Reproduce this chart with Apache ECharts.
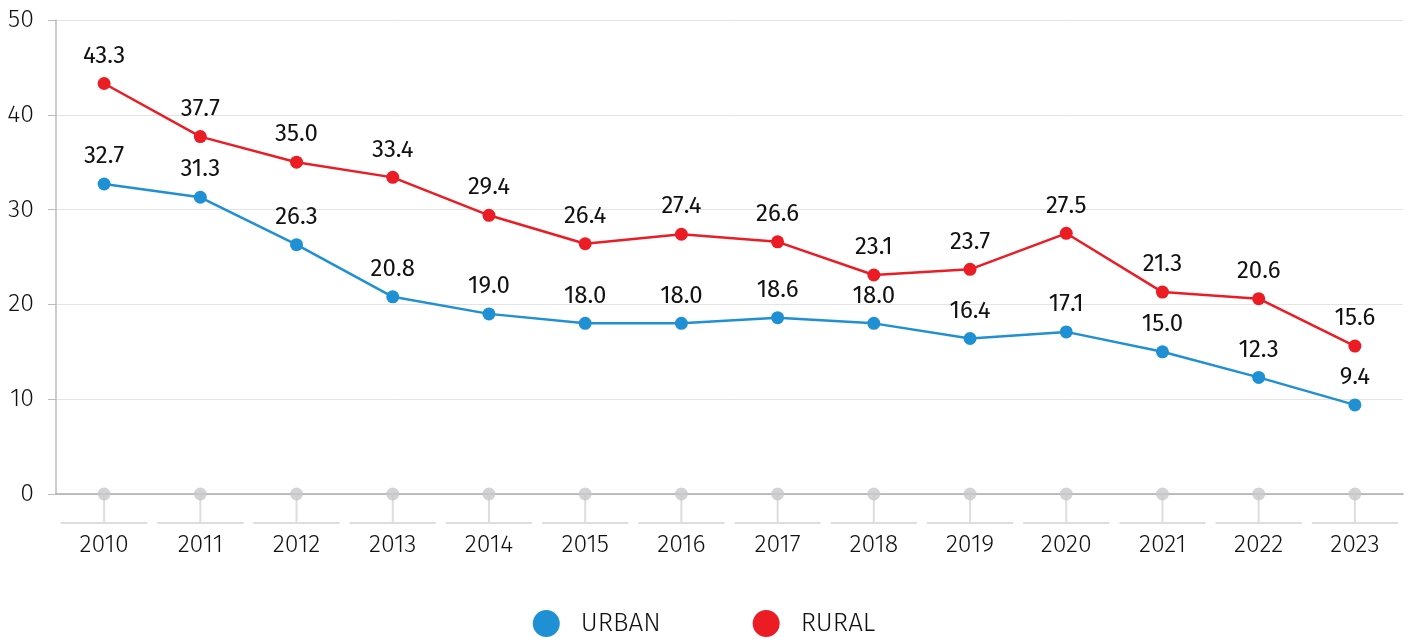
<!DOCTYPE html>
<html>
<head>
<meta charset="utf-8">
<script src="https://cdn.jsdelivr.net/npm/echarts@6/dist/echarts.min.js"></script>
<style>
  html, body { margin: 0; padding: 0; background: #fff; }
  #chart { width: 1408px; height: 640px; }
</style>
</head>
<body>
<div id="chart"></div>
<script>
var years = ['2010', '2011', '2012', '2013', '2014', '2015', '2016', '2017', '2018', '2019', '2020', '2021', '2022', '2023']
var urban = [32.7, 31.3, 26.3, 20.8, 19.0, 18.0, 18.0, 18.6, 18.0, 16.4, 17.1, 15.0, 12.3, 9.4]
var rural = [43.3, 37.7, 35.0, 33.4, 29.4, 26.4, 27.4, 26.6, 23.1, 23.7, 27.5, 21.3, 20.6, 15.6]
var baseline = [0, 0, 0, 0, 0, 0, 0, 0, 0, 0, 0, 0, 0, 0]

var font = 'Fira Sans, "Open Sans", "Noto Sans", sans-serif'

var myChart = echarts.init(document.getElementById('chart'))

var option = {
  animation: false,
  textStyle: { fontFamily: font },
  grid: { left: 56, right: 5, top: 20, bottom: 146, containLabel: false },
  legend: {
    top: 605,
    left: 'center',
    data: ['URBAN', 'RURAL'],
    icon: 'circle',
    itemWidth: 27,
    itemHeight: 27,
    itemGap: 92,
    textStyle: { fontSize: 26, fontWeight: 300, color: '#111', fontFamily: font, padding: [0, 0, 0, 16] }
  },
  xAxis: {
    type: 'category',
    data: years,
    boundaryGap: true,
    axisLine: { lineStyle: { color: '#aaa', width: 1.5 } },
    axisTick: { show: false },
    axisLabel: { fontSize: 25, fontWeight: 300, color: '#111', margin: 39, fontFamily: font }
  },
  yAxis: {
    type: 'value',
    min: 0,
    max: 50,
    interval: 10,
    axisLine: { show: true, lineStyle: { color: '#bbb', width: 1.5 } },
    axisTick: { show: true, length: 8, lineStyle: { color: '#bbb' } },
    axisLabel: { fontSize: 25, fontWeight: 300, color: '#111', margin: 22, fontFamily: font },
    splitLine: { lineStyle: { color: '#e4e4e4' } }
  },
  series: [
    {
      // stems and short rules under each category
      type: 'custom',
      silent: true,
      clip: false,
      z: 1,
      data: baseline,
      renderItem: function (params, api) {
        var p = api.coord([api.value(0), 0])
        var w = api.size([1, 0])[0]
        return {
          type: 'group',
          children: [
            { type: 'line', shape: { x1: p[0], y1: p[1], x2: p[0], y2: p[1] + 29 }, style: { stroke: '#ddd', lineWidth: 2 } },
            { type: 'line', shape: { x1: p[0] - w / 2 + 5, y1: p[1] + 29, x2: p[0] + w / 2 - 5, y2: p[1] + 29 }, style: { stroke: '#ddd', lineWidth: 2 } }
          ]
        }
      },
      encode: { x: 0, y: 1 }
    },
    {
      type: 'scatter',
      data: baseline,
      symbol: 'circle',
      symbolSize: 13,
      z: 3,
      silent: true,
      itemStyle: { color: '#c8c8ca' }
    },
    {
      name: 'URBAN',
      type: 'line',
      data: urban,
      symbol: 'circle',
      symbolSize: 13,
      z: 5,
      itemStyle: { color: '#1f90d3' },
      lineStyle: { color: '#1f90d3', width: 2.5 },
      label: {
        show: true,
        position: 'top',
        distance: 9,
        fontSize: 24,
        color: '#111',
        fontFamily: font,
        formatter: function (e) { return e.value.toFixed(1) }
      }
    },
    {
      name: 'RURAL',
      type: 'line',
      data: rural,
      symbol: 'circle',
      symbolSize: 13,
      z: 5,
      itemStyle: { color: '#ec1c24' },
      lineStyle: { color: '#ec1c24', width: 2.5 },
      label: {
        show: true,
        position: 'top',
        distance: 9,
        fontSize: 24,
        color: '#111',
        fontFamily: font,
        formatter: function (e) { return e.value.toFixed(1) }
      }
    }
  ]
}

myChart.setOption(option)
</script>
</body>
</html>
